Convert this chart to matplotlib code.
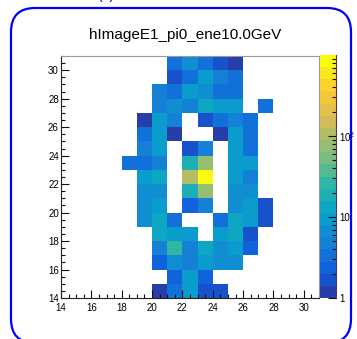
import matplotlib.pyplot as plt
import matplotlib.transforms as mtransforms
import numpy as np
from matplotlib.colors import LinearSegmentedColormap, ListedColormap, LogNorm
from matplotlib.lines import Line2D
from matplotlib.patches import FancyBboxPatch
from matplotlib.ticker import MultipleLocator, LogLocator, NullFormatter

plt.rcParams['font.family'] = ['Liberation Sans', 'DejaVu Sans']
plt.rcParams['mathtext.fontset'] = 'custom'
plt.rcParams['mathtext.rm'] = 'Liberation Sans'

title = "hImageE1_pi0_ene10.0GeV"
x_edges = np.arange(14, 32)
y_edges = np.arange(14, 32)
col_x = np.arange(18, 29)
row_y = np.arange(30, 13, -1)

# cell contents, rows y=30 .. 14, columns x=18 .. 28 (0 = empty)
cells = [
    [0, 0, 0, 3.3, 6.7, 3.3, 1.7, 1.2, 0, 0, 0],
    [0, 0, 0, 1.7, 3.3, 9.4, 4.7, 3.3, 0, 0, 0],
    [0, 0, 4.7, 3.3, 9.4, 6.7, 3.3, 3.3, 0, 0, 0],
    [0, 0, 4.7, 6.7, 4.7, 13, 9.4, 9.4, 0, 3.3, 0],
    [0, 1.2, 9.4, 4.7, 0, 1.7, 3.3, 4.7, 3.3, 0, 0],
    [0, 3.3, 9.4, 1.2, 0, 0, 1.2, 9.4, 3.3, 0, 0],
    [0, 4.7, 9.4, 0, 1.7, 4.7, 0, 9.4, 3.3, 0, 0],
    [3.3, 3.3, 4.7, 0, 19, 75, 0, 9.4, 9.4, 0, 0],
    [0, 9.4, 13, 0, 105, 940, 0, 9.4, 4.7, 0, 0],
    [0, 6.7, 6.7, 0, 19, 75, 0, 6.7, 6.7, 0, 0],
    [0, 6.7, 9.4, 0, 2.4, 4.7, 0, 6.7, 9.4, 1.7, 0],
    [0, 6.7, 13, 3.3, 0, 0, 3.3, 13, 9.4, 1.7, 0],
    [0, 0, 13, 9.4, 9.4, 0, 9.4, 13, 1.7, 0, 0],
    [0, 0, 4.7, 27, 4.7, 13, 6.7, 9.4, 2.4, 0, 0],
    [0, 0, 2.4, 6.7, 4.7, 9.4, 6.7, 6.7, 0, 0, 0],
    [0, 0, 0, 2.4, 9.4, 2.4, 0, 0, 0, 0, 0],
    [0, 0, 1.2, 3.3, 9.4, 1.7, 1.7, 0, 0, 0, 0],
]
zmin, zmax = 1, 1000

# fill the full 17x17 grid
grid = np.zeros((len(y_edges) - 1, len(x_edges) - 1))
for r, yv in enumerate(row_y):
    for c, xv in enumerate(col_x):
        grid[yv - 14, xv - 14] = cells[r][c]
grid = np.ma.masked_where(grid <= 0, grid)

# ROOT kBird palette, 20 contour colours
stops = [0.0, 0.125, 0.25, 0.375, 0.5, 0.625, 0.75, 0.875, 1.0]
red = [0.2082, 0.0592, 0.0780, 0.0232, 0.1802, 0.5301, 0.8186, 0.9956, 0.9764]
green = [0.1664, 0.3599, 0.5041, 0.6419, 0.7178, 0.7492, 0.7328, 0.7862, 0.9832]
blue = [0.5293, 0.8684, 0.8385, 0.7914, 0.6425, 0.4662, 0.3499, 0.1968, 0.0539]
bird = LinearSegmentedColormap.from_list(
    "bird", list(zip(stops, zip(red, green, blue))))
ncont = 20
tk = [int((k + 0.99) * 255 / ncont) / 254 for k in range(ncont)]
cmap = ListedColormap([bird(min(t, 1.0)) for t in tk])

fig = plt.figure(figsize=(3.57, 3.39), dpi=100)
ax = fig.add_axes([61 / 357, 1 - 298 / 339, 258 / 357, 242 / 339])
mesh = ax.pcolormesh(x_edges, y_edges, grid, cmap=cmap,
                     norm=LogNorm(vmin=zmin, vmax=zmax))
ax.set_xlim(14, 31)
ax.set_ylim(14, 31)
ax.set_xticks(np.arange(14, 31, 2))
ax.set_yticks(np.arange(14, 31, 2))
ax.xaxis.set_minor_locator(MultipleLocator(0.5))
ax.yaxis.set_minor_locator(MultipleLocator(0.5))
ax.tick_params(which='both', direction='in', labelsize=7, width=0.8, color='#111111')
ax.tick_params(which='major', length=5.5)
ax.tick_params(which='minor', length=3)
ax.tick_params(axis='x', pad=3.5)
ax.tick_params(axis='y', pad=1.5)
for s in ['top', 'right']:
    ax.spines[s].set_color('#9a9a9a')
for s in ['left', 'bottom']:
    ax.spines[s].set_color('#222222')
for s in ax.spines.values():
    s.set_linewidth(0.8)

cax = fig.add_axes([320 / 357, 1 - 298 / 339, 16 / 357, 243 / 339])
cb = fig.colorbar(mesh, cax=cax)
cb.outline.set_visible(False)
cb.set_ticks([1, 10, 100], labels=['1', '10', '10$^{2}$'])
cax.yaxis.set_minor_locator(LogLocator(base=10, subs=np.arange(2, 10)))
cax.yaxis.set_minor_formatter(NullFormatter())
cax.tick_params(which='both', direction='in', labelsize=7, width=0.8,
                color='#111111', pad=2.5)
cax.tick_params(which='major', length=5.5)
cax.tick_params(which='minor', length=3)
cax.add_line(Line2D([1, 1], [0, 1], transform=cax.transAxes, color='#444444',
                    lw=0.8, clip_on=False))

fig.text(185 / 357, 1 - 35 / 339, title, ha='center', va='center', fontsize=11)

# canvas pad border and the clipped label above it
px = mtransforms.Affine2D().scale(1 / 357, 1 / 339) + fig.transFigure
fig.add_artist(FancyBboxPatch((11, -4), 340, 335,
                              boxstyle="round,pad=0,rounding_size=24",
                              ec='blue', fc='none', lw=1.6, transform=px))
fig.text(106 / 357, 1 + 1 / 339, "(a)", ha='center', va='baseline', fontsize=10,
         color='blue')

fig.savefig('out.png', dpi=100, facecolor='white')
